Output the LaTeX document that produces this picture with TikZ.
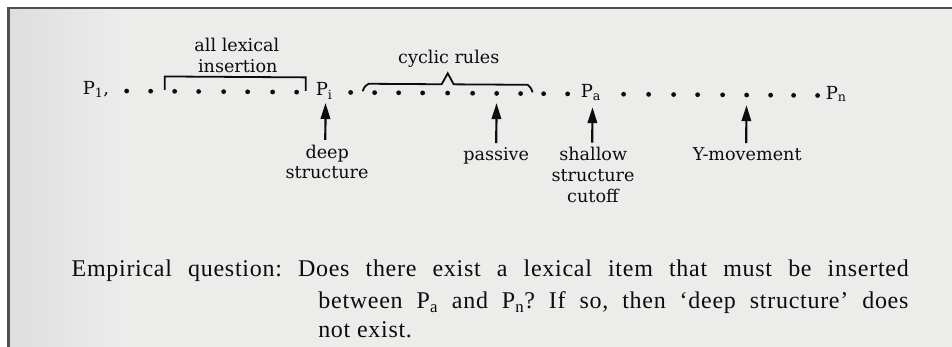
\documentclass[tikz,border=0pt]{standalone}
\usepackage{fontspec}
\newfontfamily\bodyfont{Liberation Serif}[LetterSpace=3, Ligatures=TeX]
\newfontfamily\lblfont{DejaVu Serif}
\usetikzlibrary{arrows.meta}
\definecolor{paper}{RGB}{236,236,235}
\definecolor{paperdark}{RGB}{222,222,222}
\definecolor{framec}{RGB}{80,80,80}
\definecolor{ink}{RGB}{12,12,12}
\tikzset{
  lbl/.style={font=\lblfont\fontsize{17.6}{21}\selectfont, inner sep=0pt, anchor=base, text=ink},
  pnode/.style={font=\lblfont\fontsize{18}{21}\selectfont, inner sep=0pt, anchor=base west, text=ink},
  up/.style={draw=ink, line width=2.2pt, -{Triangle[length=16pt,width=9.5pt]}},
  brk/.style={draw=ink, line width=1.8pt, line join=miter},
  body/.style={font=\bodyfont\fontsize{24}{30}\selectfont\frenchspacing, inner sep=0pt, anchor=base west, text=ink},
}
\begin{document}
\begin{tikzpicture}[x=1pt,y=-1pt]
\useasboundingbox (0,0) rectangle (952,347);
\fill[white] (0,0) rectangle (952,347);
\shade[left color=paperdark, right color=paper] (8.5,8) rectangle (120,347);
\fill[paper] (120,8) rectangle (952,347);
\draw[framec, line width=2.5pt] (8.5,347) -- (8.5,8) -- (952,8);
\begin{scope}[rotate around={-0.37:(480,190)}]
  % P labels
  \node[pnode] (p1) at (82,97) {P\textsubscript{1},};
  \node[pnode] (pi) at (315,97) {P\textsubscript{i}};
  \node[pnode] (pa) at (580,97) {P\textsubscript{a}};
  \node[pnode] (pn) at (825,97) {P\textsubscript{n}};
  % dots
  \foreach \x in {126,150,174,198,223,247,272,296,350,374,398,422,447,472,496,520,543,567,623,648,673,697,722,746,770,793,817}
    \fill[ink] (\x,93.3) circle (2.4pt);
  % brackets
  \draw[brk] (164,92) -- (164,78.5) -- (305,78.5) -- (305,92);
  \draw[brk] (362,92) .. controls (364,87) .. (368,84.5) -- (441,84.5) -- (447,73.5) -- (453,84.5) -- (527,84.5) .. controls (530,87) .. (532,92);
  \node[lbl] (lex1) at (236,53.5) {all lexical};
  \node[lbl] (lex2) at (237,74.5) {insertion};
  \node[lbl] (cyc) at (448,64) {cyclic rules};
  % arrows
  \coordinate (deepB) at (325,141);  \coordinate (deepT) at (325,104);
  \coordinate (passB) at (496,143);  \coordinate (passT) at (496,103);
  \coordinate (shalB) at (592,142);  \coordinate (shalT) at (592,106.5);
  \coordinate (ymovB) at (746,141.5); \coordinate (ymovT) at (746,103.5);
  \draw[up] (deepB) -- (deepT);
  \draw[up] (passB) -- (passT);
  \draw[up] (shalB) -- (shalT);
  \draw[up] (ymovB) -- (ymovT);
  \node[lbl] (deep1) at (327,159) {deep};
  \node[lbl] (deep2) at (327,179) {structure};
  \node[lbl] (pass) at (496,160) {passive};
  \node[lbl] (shal1) at (593,159.3) {shallow};
  \node[lbl] (shal2) at (593,181) {structure};
  \node[lbl] (shal3) at (593,201.5) {cutoff};
  \node[lbl] (ymov) at (747,158.5) {Y-movement};
  % bottom text
  \node[body] (q1) at (72,279.4) {\makebox[837pt][s]{Empirical question: Does there exist a lexical item that must be inserted}};
  \node[body] (q2) at (319,309.4) {\makebox[590pt][s]{between P\textsubscript{a} and P\textsubscript{n}? If so, then ‘deep structure’ does}};
  \node[body] (q3) at (319,339) {not exist.};
\end{scope}
\end{tikzpicture}
\end{document}
